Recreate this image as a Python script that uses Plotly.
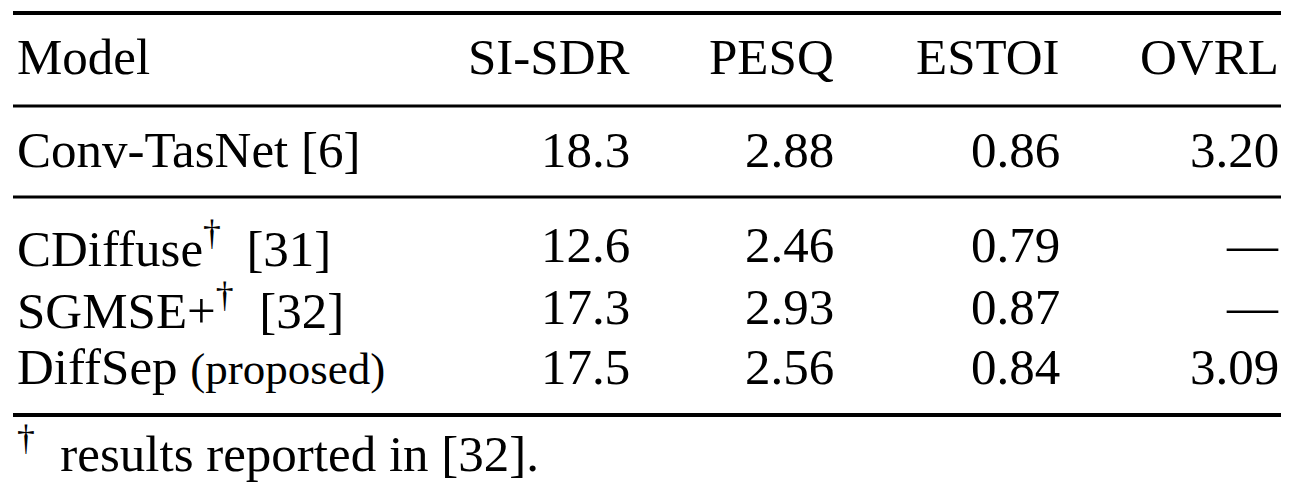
import plotly.graph_objects as go

# Table data
headers = ["Model", "SI-SDR", "PESQ", "ESTOI", "OVRL"]
models = ["Conv-TasNet [6]",
          "CDiffuse<sup>†</sup>  [31]",
          "SGMSE+<sup>†</sup>  [32]",
          "DiffSep <span style='font-size:45px'>(proposed)</span>"]
si_sdr = ["18.3", "12.6", "17.3", "17.5"]
pesq = ["2.88", "2.46", "2.93", "2.56"]
estoi = ["0.86", "0.79", "0.87", "0.84"]
ovrl = ["3.20", "—", "—", "3.09"]
footnote = "<sup>†</sup>  results reported in [32]."

# layout (pixel-like axis units, page body adds an 8px offset)
W, H = 1306, 483
OFF = 8
col_x = [15, 632, 836, 1062, 1281]
header_y = 57
row_y = [150, 245, 307, 367]
foot_y = 450
rules = [(13, 4), (106, 3), (197, 3), (415, 4)]
FONT = dict(family="Liberation Serif, Times New Roman, serif", size=51, color="black")

fig = go.Figure()
# invisible trace so the axes exist
fig.add_trace(go.Scatter(x=[OFF, W], y=[OFF, H], mode="markers",
                         marker=dict(opacity=0), hoverinfo="skip", showlegend=False))

ann = []
for j, h in enumerate(headers):
    ann.append(dict(x=col_x[j], y=header_y, text=h,
                    xanchor="left" if j == 0 else "right"))

columns = [models, si_sdr, pesq, estoi, ovrl]
for j, col in enumerate(columns):
    for i, val in enumerate(col):
        ann.append(dict(x=col_x[j], y=row_y[i], text=val,
                        xanchor="left" if j == 0 else "right"))

ann.append(dict(x=col_x[0], y=foot_y, text=footnote, xanchor="left"))

for a in ann:
    a.update(xref="x", yref="y", yanchor="middle", showarrow=False, font=FONT)

shapes = [dict(type="line", xref="x", yref="y", x0=13, x1=1281, y0=y, y1=y,
               line=dict(color="black", width=w)) for y, w in rules]

fig.update_layout(
    width=W - OFF, height=H - OFF,
    margin=dict(l=0, r=0, t=0, b=0),
    paper_bgcolor="white", plot_bgcolor="white",
    annotations=ann, shapes=shapes,
    xaxis=dict(range=[OFF, W], visible=False, fixedrange=True),
    yaxis=dict(range=[H, OFF], visible=False, fixedrange=True),
)

fig.write_html("out.html")
